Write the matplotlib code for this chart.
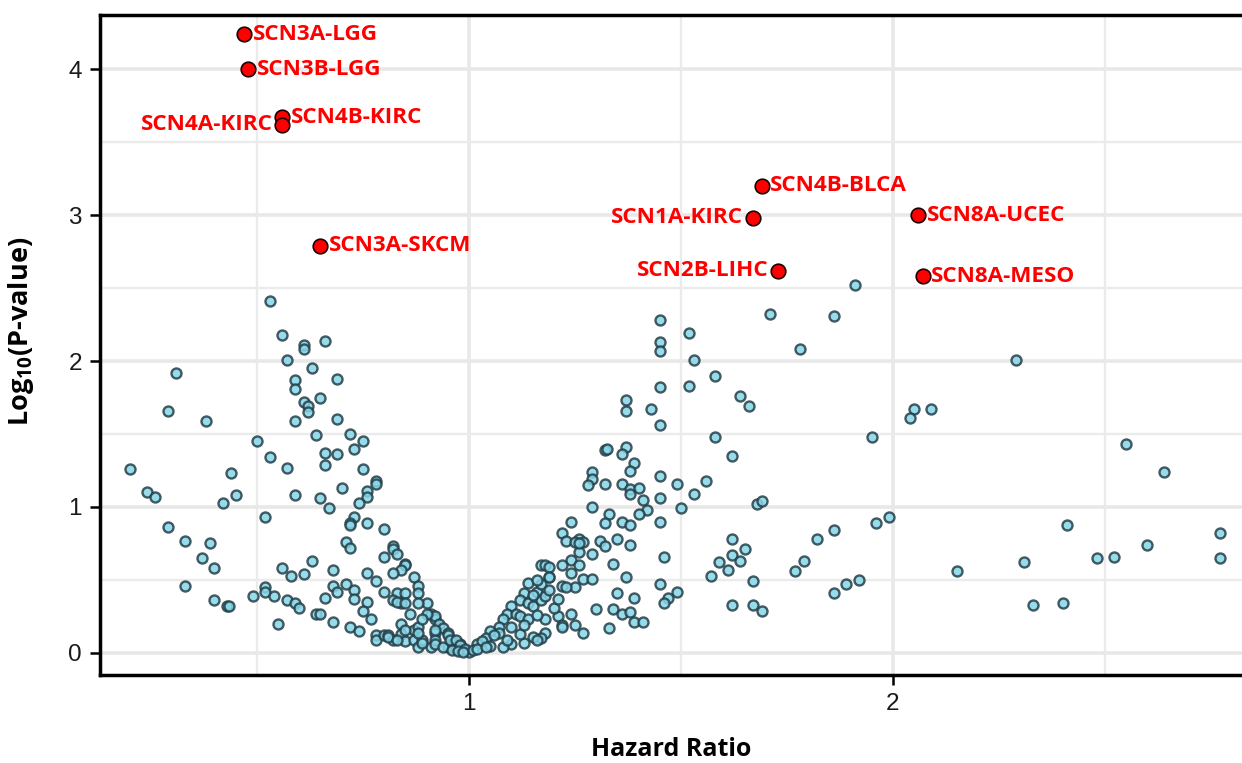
import matplotlib
matplotlib.use('Agg')
import matplotlib.pyplot as plt
from matplotlib.ticker import MultipleLocator

# grey points: hazard ratio and log10(p)
hr = [0.53, 0.56, 0.57, 0.31, 0.59, 0.59, 0.29, 0.38, 0.59, 0.50, 0.53, 0.57, 0.20, 0.44,
      0.24, 0.26, 0.45, 0.42, 0.59, 0.52, 0.29, 0.33, 0.39, 0.37, 0.40, 0.56, 0.58, 0.33,
      0.52, 0.52, 0.49, 0.54, 0.40, 0.43, 0.435, 0.57, 0.59, 0.55,
      0.61, 0.61, 0.66, 0.63, 0.69, 0.61, 0.62, 0.62, 0.65, 0.69, 0.64, 0.72, 0.75, 0.73,
      0.66, 0.69, 0.66, 0.75, 0.78, 0.78, 0.76, 0.76, 0.70, 0.65, 0.67, 0.74, 0.73, 0.72,
      0.72, 0.76, 0.80, 0.71, 0.72, 0.82, 0.82, 0.80, 0.83, 0.63, 0.61, 0.68, 0.76, 0.85,
      0.85, 0.84, 0.82, 0.87, 0.78, 0.88, 0.88, 0.68, 0.69, 0.71, 0.73, 0.73, 0.80, 0.83,
      0.85, 0.82, 0.84, 0.66, 0.76, 0.75, 0.77, 0.60, 0.64, 0.65, 0.68, 0.72, 0.74, 0.78,
      0.78, 0.80, 0.81, 0.82, 0.84, 0.84, 0.87, 0.85, 0.87,
      0.90, 0.91, 0.92, 0.92, 0.93, 0.94, 0.95, 0.96, 0.98, 0.99, 1.00, 0.88, 0.89, 0.91,
      0.95, 0.97, 0.92, 0.92, 0.90, 0.88, 0.88, 0.89, 0.92, 0.94, 0.95, 0.92, 0.86, 0.88,
      0.81, 0.83, 0.85, 0.83, 0.85, 0.89, 0.955, 0.97, 0.98, 0.99, 0.96, 0.975, 0.985,
      1.45, 1.45, 1.45, 1.52, 1.53, 1.71, 1.86, 1.78, 1.45, 1.52, 1.58, 1.64, 1.66, 1.37,
      1.37, 1.43, 1.45, 1.58, 1.95, 1.62, 1.32, 1.325, 1.37, 1.36, 1.39, 1.38, 1.29, 1.29,
      1.28, 1.32, 1.36, 1.38, 1.38, 1.40, 1.45, 1.49, 1.56, 1.53, 1.41, 1.42, 1.40, 1.45,
      1.50, 1.45, 1.29, 1.68, 1.69, 1.24, 1.33, 1.32, 1.36, 1.38, 1.22, 1.23, 1.26, 1.27,
      1.25, 1.31, 1.32, 1.35, 1.38, 1.62, 1.65, 1.62, 1.59, 1.64, 1.61, 1.82, 1.86, 1.96,
      1.99, 1.79, 1.77, 1.86, 1.89, 1.92, 1.57, 1.67, 1.62, 1.67, 1.69, 1.46, 1.45, 1.49,
      1.47, 1.46, 1.34, 1.37, 1.29, 1.35, 1.39, 1.30, 1.34, 1.36, 1.38, 1.33, 1.39, 1.41,
      1.91,
      1.24, 1.26, 1.24, 1.27, 1.29, 1.22, 1.19, 1.22, 1.17, 1.25, 1.21, 1.22, 1.24, 1.25,
      1.27, 1.18, 1.18, 1.17, 1.15, 1.13, 1.10, 1.08,
      1.14, 1.16, 1.13, 1.12, 1.10, 1.09, 1.08, 1.07, 1.05, 1.04, 1.02, 1.01, 1.14, 1.15,
      1.17, 1.17, 1.18, 1.19, 1.18, 1.19, 1.11, 1.12, 1.14, 1.16, 1.10, 1.07, 1.16, 1.22,
      1.16, 1.19, 1.23, 1.26, 1.26, 1.03, 1.05, 1.06, 1.09, 1.12, 1.20, 1.13, 1.15, 1.21,
      1.02, 1.04,
      2.29, 2.05, 2.04, 2.09, 2.55, 2.64, 2.15, 2.31, 2.33, 2.40, 2.41, 2.48, 2.52, 2.60,
      2.77, 2.77]
logp = [2.41, 2.18, 2.01, 1.92, 1.87, 1.81, 1.66, 1.59, 1.59, 1.45, 1.34, 1.27, 1.26, 1.23,
        1.10, 1.07, 1.08, 1.03, 1.08, 0.93, 0.86, 0.77, 0.75, 0.65, 0.58, 0.58, 0.53, 0.46,
        0.45, 0.42, 0.39, 0.39, 0.36, 0.32, 0.325, 0.36, 0.34, 0.20,
        2.11, 2.08, 2.14, 1.95, 1.88, 1.72, 1.69, 1.65, 1.75, 1.60, 1.49, 1.50, 1.45, 1.40,
        1.37, 1.36, 1.29, 1.26, 1.18, 1.16, 1.11, 1.07, 1.13, 1.06, 0.99, 1.03, 0.93, 0.89,
        0.88, 0.89, 0.85, 0.76, 0.72, 0.73, 0.71, 0.66, 0.68, 0.63, 0.54, 0.57, 0.55, 0.61,
        0.60, 0.57, 0.55, 0.52, 0.49, 0.46, 0.41, 0.46, 0.42, 0.47, 0.43, 0.37, 0.42, 0.41,
        0.41, 0.36, 0.34, 0.38, 0.35, 0.29, 0.23, 0.31, 0.27, 0.27, 0.21, 0.18, 0.15, 0.12,
        0.09, 0.12, 0.12, 0.09, 0.13, 0.20, 0.16, 0.08, 0.09,
        0.34, 0.27, 0.23, 0.25, 0.20, 0.17, 0.14, 0.09, 0.06, 0.02, 0.01, 0.04, 0.09, 0.04,
        0.04, 0.03, 0.14, 0.09, 0.27, 0.18, 0.14, 0.07, 0.06, 0.04, 0.12, 0.16, 0.27, 0.34,
        0.11, 0.09, 0.16, 0.35, 0.34, 0.23, 0.09, 0.09, 0.055, 0.03, 0.02, 0.015, 0.01,
        2.28, 2.13, 2.07, 2.19, 2.01, 2.32, 2.31, 2.08, 1.82, 1.83, 1.90, 1.76, 1.69, 1.73,
        1.66, 1.67, 1.56, 1.48, 1.48, 1.35, 1.39, 1.395, 1.41, 1.36, 1.30, 1.25, 1.24, 1.19,
        1.15, 1.16, 1.16, 1.12, 1.09, 1.13, 1.21, 1.16, 1.18, 1.09, 1.05, 0.98, 0.95, 1.06,
        0.99, 0.90, 1.00, 1.02, 1.04, 0.90, 0.95, 0.89, 0.90, 0.88, 0.82, 0.77, 0.78, 0.76,
        0.76, 0.77, 0.73, 0.78, 0.74, 0.78, 0.71, 0.67, 0.62, 0.63, 0.57, 0.78, 0.84, 0.89,
        0.93, 0.63, 0.56, 0.41, 0.47, 0.50, 0.53, 0.49, 0.33, 0.33, 0.29, 0.66, 0.47, 0.42,
        0.38, 0.34, 0.61, 0.52, 0.68, 0.41, 0.38, 0.30, 0.30, 0.27, 0.28, 0.17, 0.21, 0.21,
        2.52,
        0.64, 0.60, 0.55, 0.51, 0.51, 0.60, 0.52, 0.46, 0.60, 0.45, 0.25, 0.19, 0.27, 0.19,
        0.14, 0.23, 0.14, 0.10, 0.11, 0.07, 0.06, 0.04,
        0.48, 0.42, 0.41, 0.36, 0.32, 0.27, 0.23, 0.18, 0.15, 0.10, 0.06, 0.02, 0.34, 0.32,
        0.47, 0.36, 0.39, 0.43, 0.60, 0.59, 0.27, 0.25, 0.23, 0.26, 0.18, 0.14, 0.09, 0.18,
        0.50, 0.52, 0.45, 0.69, 0.75, 0.08, 0.05, 0.12, 0.09, 0.13, 0.31, 0.19, 0.40, 0.37,
        0.03, 0.04,
        2.01, 1.67, 1.61, 1.67, 1.43, 1.24, 0.56, 0.62, 0.33, 0.34, 0.88, 0.65, 0.66, 0.74,
        0.82, 0.65]

# highlighted genes
hl_names = ['SCN3A-LGG', 'SCN3B-LGG', 'SCN4B-KIRC', 'SCN4A-KIRC', 'SCN3A-SKCM',
            'SCN4B-BLCA', 'SCN1A-KIRC', 'SCN2B-LIHC', 'SCN8A-UCEC', 'SCN8A-MESO']
hl_hr = [0.47, 0.48, 0.56, 0.56, 0.65, 1.69, 1.67, 1.73, 2.06, 2.07]
hl_logp = [4.24, 4.00, 3.67, 3.62, 2.79, 3.20, 2.98, 2.62, 3.00, 2.58]
hl_side = ['r', 'r', 'r', 'l', 'r', 'r', 'l', 'l', 'r', 'r']

x_ticks = [1, 2]
y_ticks = [0, 1, 2, 3, 4]

plt.rcParams['font.family'] = ['Open Sans', 'DejaVu Sans']
plt.rcParams['mathtext.default'] = 'regular'

fig = plt.figure(figsize=(12.42, 7.63), dpi=100)
ax = fig.add_axes([0.0805, 0.1153, 0.9195, 0.865])

ax.scatter(hr, logp, s=52, c='#86d6e8', edgecolors='#243f48', linewidths=1.7,
           alpha=0.85, zorder=3)
ax.scatter(hl_hr, hl_logp, s=110, c='#ff0000', edgecolors='#1a0000', linewidths=1.2,
           zorder=4)

for name, x, y, side in zip(hl_names, hl_hr, hl_logp, hl_side):
    if side == 'r':
        ax.annotate(name, (x, y), xytext=(6, 0), textcoords='offset points',
                    ha='left', va='center', color='#ff0000', fontsize=16.2,
                    fontweight='bold', zorder=5)
    else:
        ax.annotate(name, (x, y), xytext=(-7, 0), textcoords='offset points',
                    ha='right', va='center', color='#ff0000', fontsize=16.2,
                    fontweight='bold', zorder=5)

ax.set_xlim(0.13, 2.823)
ax.set_ylim(-0.151, 4.37)

tick_font = dict(fontfamily='Liberation Sans', fontsize=17.5, color='#1a1a1a')
ax.set_xticks(x_ticks, labels=[str(t) for t in x_ticks], **tick_font)
ax.set_yticks(y_ticks, labels=[str(t) for t in y_ticks], **tick_font)
ax.xaxis.set_minor_locator(MultipleLocator(0.5))
ax.yaxis.set_minor_locator(MultipleLocator(0.5))

ax.set_axisbelow(True)
ax.grid(which='major', color='#e8e8e8', linewidth=2.6)
ax.grid(which='minor', color='#ebebeb', linewidth=1.7)

for side in ['left', 'bottom', 'top']:
    ax.spines[side].set_linewidth(2.5)
    ax.spines[side].set_color('black')
ax.spines['right'].set_visible(False)

ax.tick_params(which='major', length=7, width=1.8, color='black', pad=6)
ax.tick_params(which='minor', length=0)

ax.set_xlabel('Hazard Ratio', fontsize=18, fontweight='bold', labelpad=16)
ax.set_ylabel('Log$_{10}$(P-value)', fontsize=19.5, fontweight='bold')
ax.yaxis.set_label_coords(-0.056, 0.52)

fig.savefig('out.png', dpi=100)
